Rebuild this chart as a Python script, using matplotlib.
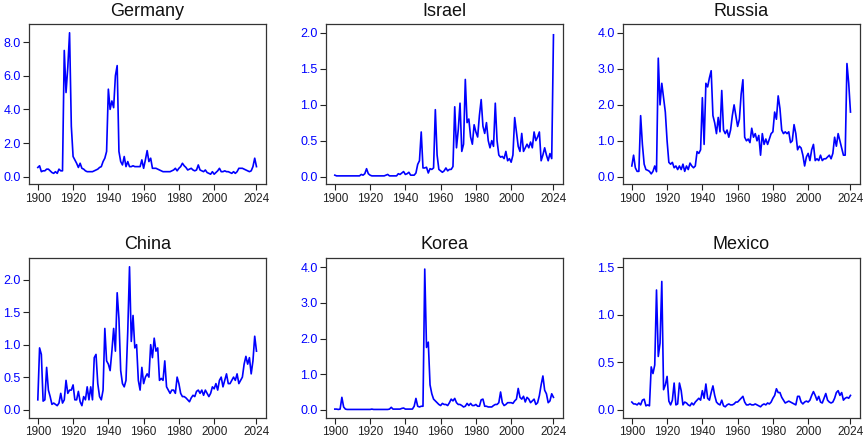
import numpy as np
import matplotlib
matplotlib.use("Agg")
import matplotlib.pyplot as plt
from matplotlib.ticker import FormatStrFormatter

plt.rcParams['font.family'] = ['Liberation Sans', 'DejaVu Sans']

years = list(range(1900, 2025))

germany = [
    0.55, 0.65, 0.30, 0.35, 0.35, 0.45, 0.45, 0.35, 0.25, 0.20,
    0.30, 0.20, 0.45, 0.35, 0.35, 7.50, 5.00, 6.50, 8.55, 3.00,
    1.20, 1.00, 0.80, 0.55, 0.80, 0.50, 0.45, 0.35, 0.30, 0.30,
    0.30, 0.30, 0.35, 0.40, 0.45, 0.55, 0.60, 0.90, 1.10, 1.50,
    5.20, 4.00, 4.50, 4.10, 6.00, 6.60, 1.50, 0.90, 0.70, 1.20,
    0.60, 0.90, 0.60, 0.60, 0.65, 0.60, 0.60, 0.60, 0.60, 1.00,
    0.50, 1.00, 1.55, 0.90, 1.10, 0.50, 0.50, 0.50, 0.45, 0.40,
    0.35, 0.30, 0.30, 0.30, 0.30, 0.30, 0.35, 0.40, 0.50, 0.35,
    0.50, 0.60, 0.80, 0.65, 0.55, 0.40, 0.45, 0.50, 0.40, 0.35,
    0.40, 0.70, 0.40, 0.35, 0.30, 0.40, 0.25, 0.20, 0.15, 0.30,
    0.15, 0.25, 0.35, 0.50, 0.30, 0.30, 0.35, 0.30, 0.30, 0.25,
    0.20, 0.30, 0.20, 0.30, 0.50, 0.50, 0.50, 0.45, 0.40, 0.35,
    0.30, 0.35, 0.60, 1.10, 0.60,
]

israel = [
    0.02, 0.01, 0.01, 0.01, 0.01, 0.01, 0.01, 0.01, 0.01, 0.01,
    0.01, 0.01, 0.01, 0.01, 0.01, 0.03, 0.02, 0.04, 0.11, 0.04,
    0.02, 0.01, 0.01, 0.01, 0.01, 0.01, 0.01, 0.01, 0.01, 0.02,
    0.03, 0.01, 0.01, 0.01, 0.01, 0.01, 0.04, 0.03, 0.05, 0.07,
    0.03, 0.04, 0.06, 0.02, 0.02, 0.02, 0.05, 0.17, 0.22, 0.62,
    0.12, 0.12, 0.13, 0.05, 0.11, 0.10, 0.12, 0.93, 0.30, 0.10,
    0.08, 0.06, 0.08, 0.12, 0.08, 0.10, 0.10, 0.14, 0.97, 0.40,
    0.65, 1.02, 0.35, 0.45, 1.35, 0.75, 0.80, 0.55, 0.45, 0.72,
    0.62, 0.55, 0.85, 1.07, 0.70, 0.60, 0.75, 0.50, 0.40, 0.50,
    0.42, 1.02, 0.50, 0.30, 0.27, 0.28, 0.25, 0.35, 0.22, 0.25,
    0.20, 0.30, 0.82, 0.62, 0.42, 0.35, 0.60, 0.35, 0.40, 0.45,
    0.40, 0.48, 0.40, 0.62, 0.50, 0.55, 0.62, 0.22, 0.30, 0.40,
    0.30, 0.22, 0.32, 0.25, 1.97,
]

russia = [
    0.30, 0.60, 0.25, 0.15, 0.15, 1.70, 0.90, 0.35, 0.20, 0.18,
    0.15, 0.08, 0.15, 0.30, 0.14, 3.30, 2.00, 2.60, 2.20, 1.80,
    1.00, 0.40, 0.35, 0.40, 0.25, 0.30, 0.20, 0.30, 0.20, 0.35,
    0.15, 0.30, 0.20, 0.38, 0.30, 0.25, 0.30, 0.70, 0.65, 0.75,
    2.20, 0.90, 2.60, 2.50, 2.75, 2.95, 1.70, 1.50, 1.20, 1.65,
    1.25, 2.40, 1.30, 1.20, 1.30, 1.10, 1.30, 1.70, 2.00, 1.70,
    1.40, 1.60, 2.30, 2.70, 1.10, 1.00, 1.05, 0.95, 1.35, 1.10,
    1.20, 1.00, 1.15, 0.60, 1.20, 0.90, 1.05, 0.90, 1.05, 1.20,
    1.25, 1.80, 1.60, 2.25, 1.90, 1.30, 1.20, 1.25, 1.20, 1.25,
    0.95, 1.00, 1.45, 1.20, 0.75, 0.85, 0.80, 0.60, 0.30, 0.55,
    0.65, 0.45, 0.75, 0.90, 0.45, 0.50, 0.45, 0.60, 0.45, 0.50,
    0.50, 0.55, 0.60, 0.50, 0.65, 1.10, 0.85, 1.20, 1.00, 0.80,
    0.60, 0.60, 3.15, 2.60, 1.80,
]

china = [
    0.15, 0.95, 0.85, 0.13, 0.15, 0.65, 0.30, 0.20, 0.08, 0.10,
    0.08, 0.06, 0.10, 0.25, 0.10, 0.15, 0.45, 0.25, 0.30, 0.30,
    0.38, 0.15, 0.15, 0.28, 0.12, 0.06, 0.20, 0.15, 0.35, 0.15,
    0.35, 0.15, 0.80, 0.85, 0.40, 0.20, 0.15, 0.30, 1.25, 0.75,
    0.70, 0.60, 0.90, 1.25, 0.90, 1.80, 1.40, 0.60, 0.40, 0.35,
    0.45, 1.20, 2.20, 1.05, 1.45, 0.95, 1.00, 0.45, 0.30, 0.65,
    0.40, 0.50, 0.55, 0.50, 1.00, 0.80, 1.10, 0.90, 0.95, 0.45,
    0.48, 0.45, 0.75, 0.35, 0.30, 0.25, 0.30, 0.30, 0.25, 0.50,
    0.40, 0.25, 0.20, 0.20, 0.18, 0.15, 0.12, 0.18, 0.22, 0.20,
    0.28, 0.30, 0.25, 0.30, 0.22, 0.30, 0.25, 0.20, 0.25, 0.35,
    0.32, 0.40, 0.30, 0.45, 0.50, 0.35, 0.45, 0.55, 0.40, 0.40,
    0.45, 0.50, 0.45, 0.55, 0.40, 0.45, 0.50, 0.70, 0.82, 0.70,
    0.80, 0.55, 0.75, 1.13, 0.90,
]

korea = [
    0.02, 0.02, 0.01, 0.02, 0.35, 0.08, 0.02, 0.01, 0.01, 0.01,
    0.01, 0.01, 0.01, 0.01, 0.01, 0.01, 0.01, 0.01, 0.01, 0.01,
    0.01, 0.02, 0.01, 0.01, 0.01, 0.01, 0.01, 0.01, 0.01, 0.01,
    0.01, 0.02, 0.07, 0.02, 0.02, 0.02, 0.02, 0.02, 0.04, 0.05,
    0.02, 0.02, 0.02, 0.02, 0.02, 0.10, 0.32, 0.10, 0.08, 0.10,
    0.10, 3.95, 1.75, 1.90, 0.70, 0.45, 0.30, 0.25, 0.20, 0.15,
    0.12, 0.18, 0.15, 0.15, 0.12, 0.20, 0.30, 0.25, 0.32, 0.20,
    0.15, 0.15, 0.12, 0.08, 0.10, 0.18, 0.12, 0.18, 0.12, 0.12,
    0.15, 0.10, 0.10, 0.28, 0.30, 0.10, 0.10, 0.08, 0.08, 0.08,
    0.12, 0.15, 0.15, 0.20, 0.50, 0.20, 0.12, 0.15, 0.20, 0.20,
    0.20, 0.18, 0.25, 0.30, 0.60, 0.35, 0.30, 0.38, 0.22, 0.35,
    0.30, 0.20, 0.25, 0.30, 0.15, 0.20, 0.40, 0.70, 0.95, 0.55,
    0.45, 0.20, 0.25, 0.45, 0.35,
]

mexico = [
    0.08, 0.06, 0.06, 0.05, 0.07, 0.05, 0.10, 0.11, 0.04, 0.05,
    0.04, 0.45, 0.38, 0.47, 1.26, 0.56, 0.70, 1.35, 0.21, 0.26,
    0.35, 0.09, 0.05, 0.10, 0.28, 0.05, 0.06, 0.28, 0.20, 0.05,
    0.08, 0.07, 0.05, 0.04, 0.07, 0.05, 0.08, 0.10, 0.12, 0.10,
    0.20, 0.12, 0.27, 0.12, 0.10, 0.18, 0.25, 0.15, 0.08, 0.06,
    0.05, 0.10, 0.04, 0.03, 0.05, 0.06, 0.05, 0.05, 0.06, 0.08,
    0.08, 0.10, 0.12, 0.14, 0.08, 0.05, 0.05, 0.06, 0.05, 0.05,
    0.06, 0.05, 0.04, 0.03, 0.05, 0.06, 0.05, 0.07, 0.06, 0.08,
    0.12, 0.15, 0.22, 0.18, 0.18, 0.13, 0.10, 0.07, 0.08, 0.09,
    0.08, 0.07, 0.06, 0.05, 0.14, 0.14, 0.08, 0.06, 0.08, 0.09,
    0.08, 0.10, 0.15, 0.19, 0.15, 0.10, 0.14, 0.08, 0.07, 0.12,
    0.17, 0.10, 0.08, 0.07, 0.08, 0.12, 0.18, 0.20, 0.15, 0.18,
    0.10, 0.12, 0.13, 0.12, 0.15,
]

titles = ["Germany", "Israel", "Russia", "China", "Korea", "Mexico"]
series = [germany, israel, russia, china, korea, mexico]
y_ticks = [
    [0, 2, 4, 6, 8],
    [0, 0.5, 1.0, 1.5, 2.0],
    [0, 1, 2, 3, 4],
    [0, 0.5, 1.0, 1.5, 2.0],
    [0, 1, 2, 3, 4],
    [0, 0.5, 1.0, 1.5],
]
y_limits = [(-0.45, 9.07), (-0.107, 2.12), (-0.21, 4.25),
            (-0.13, 2.34), (-0.23, 4.27), (-0.088, 1.60)]
x_ticks = [1900, 1920, 1940, 1960, 1980, 2000, 2024]

W, H = 865, 438
fig = plt.figure(figsize=(W / 100, H / 100), dpi=100)
lefts = [29, 326, 623]
tops = [24, 257.7]
aw, ah = 237, 160.3

for i, (title, vals) in enumerate(zip(titles, series)):
    r, c = divmod(i, 3)
    ax = fig.add_axes([lefts[c] / W, 1 - (tops[r] + ah) / H, aw / W, ah / H])
    ax.plot(years, vals, color='blue', lw=1.2)
    ax.set_xlim(1895.0, 2029.4)
    ax.set_ylim(*y_limits[i])
    ax.set_xticks(x_ticks)
    ax.set_yticks(y_ticks[i])
    ax.yaxis.set_major_formatter(FormatStrFormatter('%.1f'))
    ax.tick_params(axis='x', labelsize=8.5, colors='#222222', length=4, width=0.8, pad=2)
    ax.tick_params(axis='y', labelsize=9, colors='#222222', labelcolor='blue', length=4, width=0.8, pad=2)
    for s in ax.spines.values():
        s.set_color('#333333')
        s.set_linewidth(0.9)
    ax.set_title(title, fontsize=13, color='#111111', pad=6)

fig.savefig("out.png", dpi=100)
